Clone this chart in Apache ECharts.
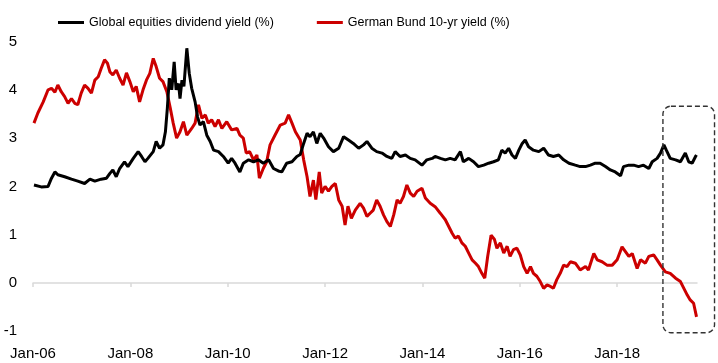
<!DOCTYPE html>
<html>
<head>
<meta charset="utf-8">
<script src="https://cdn.jsdelivr.net/npm/echarts@6/dist/echarts.min.js"></script>
<style>
html,body{margin:0;padding:0;background:#fff;}
#chart{width:718px;height:363px;}
</style>
</head>
<body>
<div id="chart"></div>
<script>
// ---- Data (year as decimal, value in %) ----
const seriesNames = ['Global equities dividend yield (%)', 'German Bund 10-yr yield (%)'];

const equityYears = [2006.02,2006.17,2006.31,2006.38,2006.45,2006.51,2006.65,2006.79,2006.92,2007.06,2007.17,2007.27,2007.40,2007.51,2007.58,2007.64,2007.71,2007.78,2007.88,2007.95,2008.06,2008.16,2008.23,2008.30,2008.36,2008.47,2008.53,2008.60,2008.67,2008.72,2008.76,2008.80,2008.85,2008.90,2008.94,2008.99,2009.02,2009.06,2009.10,2009.16,2009.21,2009.26,2009.33,2009.38,2009.43,2009.50,2009.57,2009.64,2009.71,2009.81,2009.91,2010.01,2010.08,2010.15,2010.25,2010.32,2010.43,2010.53,2010.63,2010.73,2010.84,2010.94,2011.04,2011.11,2011.21,2011.32,2011.42,2011.49,2011.56,2011.63,2011.69,2011.76,2011.83,2011.90,2011.97,2012.07,2012.17,2012.28,2012.38,2012.48,2012.58,2012.69,2012.79,2012.86,2012.96,2013.06,2013.17,2013.27,2013.37,2013.44,2013.54,2013.65,2013.75,2013.85,2013.99,2014.09,2014.20,2014.26,2014.37,2014.47,2014.57,2014.67,2014.78,2014.84,2014.95,2015.05,2015.15,2015.26,2015.36,2015.46,2015.56,2015.63,2015.70,2015.77,2015.84,2015.91,2015.98,2016.05,2016.11,2016.18,2016.28,2016.39,2016.49,2016.59,2016.69,2016.80,2016.90,2017.01,2017.14,2017.24,2017.35,2017.45,2017.55,2017.65,2017.76,2017.86,2017.96,2018.07,2018.13,2018.24,2018.34,2018.44,2018.54,2018.65,2018.72,2018.82,2018.89,2018.96,2019.01,2019.09,2019.20,2019.30,2019.40,2019.47,2019.54,2019.61,2019.63];
const equityYield = [2.03,1.99,2.00,2.17,2.30,2.24,2.20,2.15,2.11,2.06,2.15,2.11,2.15,2.17,2.27,2.34,2.20,2.37,2.51,2.41,2.58,2.72,2.62,2.51,2.58,2.72,2.93,2.79,2.86,3.13,3.62,4.24,4.00,4.58,4.00,4.13,3.82,4.20,4.07,4.86,4.34,4.03,3.75,3.44,3.27,3.34,3.06,2.93,2.75,2.72,2.62,2.48,2.58,2.48,2.30,2.48,2.55,2.51,2.55,2.48,2.55,2.37,2.32,2.30,2.48,2.51,2.62,2.66,2.89,3.10,3.03,3.13,2.89,3.10,3.00,2.82,2.72,2.79,3.03,2.96,2.89,2.79,2.86,2.93,2.79,2.72,2.69,2.62,2.58,2.72,2.62,2.65,2.58,2.55,2.44,2.55,2.58,2.62,2.58,2.55,2.58,2.55,2.72,2.51,2.58,2.51,2.41,2.44,2.48,2.51,2.55,2.75,2.69,2.79,2.65,2.58,2.75,2.89,2.96,2.82,2.75,2.72,2.79,2.65,2.62,2.65,2.55,2.48,2.44,2.41,2.41,2.44,2.48,2.48,2.41,2.34,2.30,2.22,2.41,2.44,2.44,2.41,2.44,2.37,2.51,2.58,2.69,2.86,2.75,2.58,2.55,2.51,2.69,2.51,2.48,2.62,2.65];

const bundYears = [2006.02,2006.10,2006.21,2006.31,2006.38,2006.45,2006.51,2006.58,2006.65,2006.72,2006.79,2006.86,2006.92,2006.99,2007.06,2007.13,2007.20,2007.27,2007.34,2007.40,2007.47,2007.53,2007.58,2007.64,2007.71,2007.78,2007.85,2007.92,2007.99,2008.06,2008.12,2008.19,2008.26,2008.33,2008.40,2008.47,2008.53,2008.60,2008.67,2008.75,2008.82,2008.88,2008.95,2009.02,2009.09,2009.16,2009.26,2009.33,2009.40,2009.47,2009.54,2009.60,2009.67,2009.74,2009.81,2009.88,2009.98,2010.08,2010.19,2010.25,2010.32,2010.38,2010.45,2010.53,2010.60,2010.65,2010.73,2010.80,2010.87,2010.97,2011.08,2011.18,2011.25,2011.32,2011.39,2011.49,2011.56,2011.63,2011.69,2011.76,2011.81,2011.88,2011.93,2012.00,2012.07,2012.14,2012.21,2012.28,2012.35,2012.41,2012.47,2012.54,2012.62,2012.72,2012.79,2012.86,2012.93,2012.99,2013.06,2013.13,2013.20,2013.27,2013.34,2013.41,2013.48,2013.54,2013.61,2013.68,2013.75,2013.82,2013.89,2013.99,2014.06,2014.16,2014.26,2014.37,2014.47,2014.54,2014.61,2014.67,2014.74,2014.81,2014.88,2014.95,2015.02,2015.09,2015.15,2015.22,2015.28,2015.34,2015.41,2015.48,2015.53,2015.60,2015.67,2015.74,2015.80,2015.87,2015.94,2016.01,2016.08,2016.15,2016.22,2016.28,2016.35,2016.42,2016.49,2016.56,2016.63,2016.69,2016.76,2016.83,2016.90,2016.97,2017.04,2017.14,2017.24,2017.35,2017.41,2017.52,2017.59,2017.69,2017.79,2017.90,2018.00,2018.10,2018.17,2018.24,2018.31,2018.41,2018.48,2018.58,2018.65,2018.75,2018.82,2018.89,2018.99,2019.09,2019.20,2019.30,2019.37,2019.44,2019.50,2019.57,2019.63];
const bundYield = [3.31,3.52,3.75,4.00,4.03,3.95,4.10,3.96,3.86,3.72,3.82,3.72,3.69,3.93,4.10,4.03,3.93,4.20,4.27,4.44,4.62,4.55,4.37,4.31,4.41,4.24,4.10,4.35,4.17,3.96,4.07,3.75,4.00,4.20,4.34,4.65,4.48,4.24,4.17,3.96,3.62,3.31,3.00,3.13,3.34,3.06,3.20,3.31,3.69,3.41,3.48,3.31,3.38,3.24,3.38,3.20,3.34,3.17,3.20,3.06,3.00,2.69,2.72,2.55,2.65,2.17,2.37,2.51,2.86,3.06,3.27,3.31,3.48,3.31,3.13,2.96,2.55,2.20,1.79,2.13,1.73,2.30,1.86,2.00,1.90,2.00,2.06,1.72,1.59,1.20,1.59,1.34,1.51,1.65,1.55,1.38,1.45,1.51,1.72,1.59,1.41,1.27,1.17,1.41,1.72,1.65,1.79,2.03,1.86,1.79,1.90,1.96,1.76,1.65,1.58,1.44,1.31,1.17,1.03,0.93,0.97,0.83,0.76,0.62,0.48,0.41,0.34,0.20,0.10,0.55,0.99,0.90,0.72,0.83,0.62,0.76,0.55,0.69,0.72,0.58,0.34,0.20,0.34,0.20,0.14,0.03,-0.11,-0.04,-0.07,-0.11,0.07,0.20,0.37,0.34,0.44,0.41,0.27,0.34,0.27,0.61,0.48,0.44,0.37,0.37,0.48,0.75,0.65,0.55,0.61,0.30,0.48,0.41,0.55,0.58,0.48,0.37,0.23,0.20,0.10,0.03,-0.11,-0.25,-0.35,-0.42,-0.70];

const xTickYears = [2006, 2008, 2010, 2012, 2014, 2016, 2018];
const yTicks = [-1, 0, 1, 2, 3, 4, 5];

// Annotation box (data coordinates: years / %)
const boxYears = [2018.94, 2020.0];
const boxValues = [3.66, -1.03];

const FONT = '"Liberation Sans", Arial, sans-serif';

const chart = echarts.init(document.getElementById('chart'), null, {renderer: 'canvas'});

function zip(xs, ys) { return xs.map((x, i) => [x, ys[i]]); }

const option = {
  animation: false,
  backgroundColor: '#ffffff',
  textStyle: {fontFamily: FONT},
  legend: {
    top: 11,
    left: 53,
    itemGap: 43,
    itemWidth: 26,
    itemHeight: 3,
    icon: 'rect',
    textStyle: {fontSize: 12.5, color: '#000', fontFamily: FONT},
    data: seriesNames
  },
  grid: {left: 33, right: 21, top: 41.5, bottom: 31.7, containLabel: false, outerBoundsMode: 'none'},
  xAxis: {
    type: 'value',
    min: 2006,
    max: 2019.64,
    interval: 2,
    axisLine: {show: true, onZero: true, lineStyle: {color: '#d9d9d9', width: 1.5}},
    axisTick: {show: true, length: 4, inside: false, customValues: xTickYears, lineStyle: {color: '#d9d9d9', width: 1.5}},
    axisLabel: {
      customValues: xTickYears,
      margin: 15,
      fontSize: 15,
      color: '#000',
      fontFamily: FONT,
      formatter: v => 'Jan-' + String(Math.round(v) % 100).padStart(2, '0')
    },
    splitLine: {show: false}
  },
  yAxis: {
    type: 'value',
    min: yTicks[0],
    max: yTicks[yTicks.length - 1],
    interval: 1,
    axisLine: {show: false},
    axisTick: {show: false},
    splitLine: {show: false},
    axisLabel: {margin: 16, fontSize: 15, color: '#000', fontFamily: FONT}
  },
  series: [
    {
      name: seriesNames[0],
      type: 'line',
      data: zip(equityYears, equityYield),
      showSymbol: false,
      z: 3,
      color: '#000000',
      lineStyle: {width: 3, color: '#000000'}
    },
    {
      name: seriesNames[1],
      type: 'line',
      data: zip(bundYears, bundYield),
      showSymbol: false,
      z: 2,
      color: '#CC0000',
      lineStyle: {width: 3, color: '#CC0000'}
    }
  ]
};

chart.setOption(option);

const p1 = chart.convertToPixel({gridIndex: 0}, [boxYears[0], boxValues[0]]);
const p2 = chart.convertToPixel({gridIndex: 0}, [boxYears[1], boxValues[1]]);
chart.setOption({
  graphic: [{
    type: 'rect',
    shape: {x: p1[0], y: p1[1], width: p2[0] - p1[0], height: p2[1] - p1[1], r: 8},
    style: {fill: 'none', stroke: '#333333', lineWidth: 1.4, lineDash: [5, 3]},
    z: 10
  }]
});
</script>
</body>
</html>
